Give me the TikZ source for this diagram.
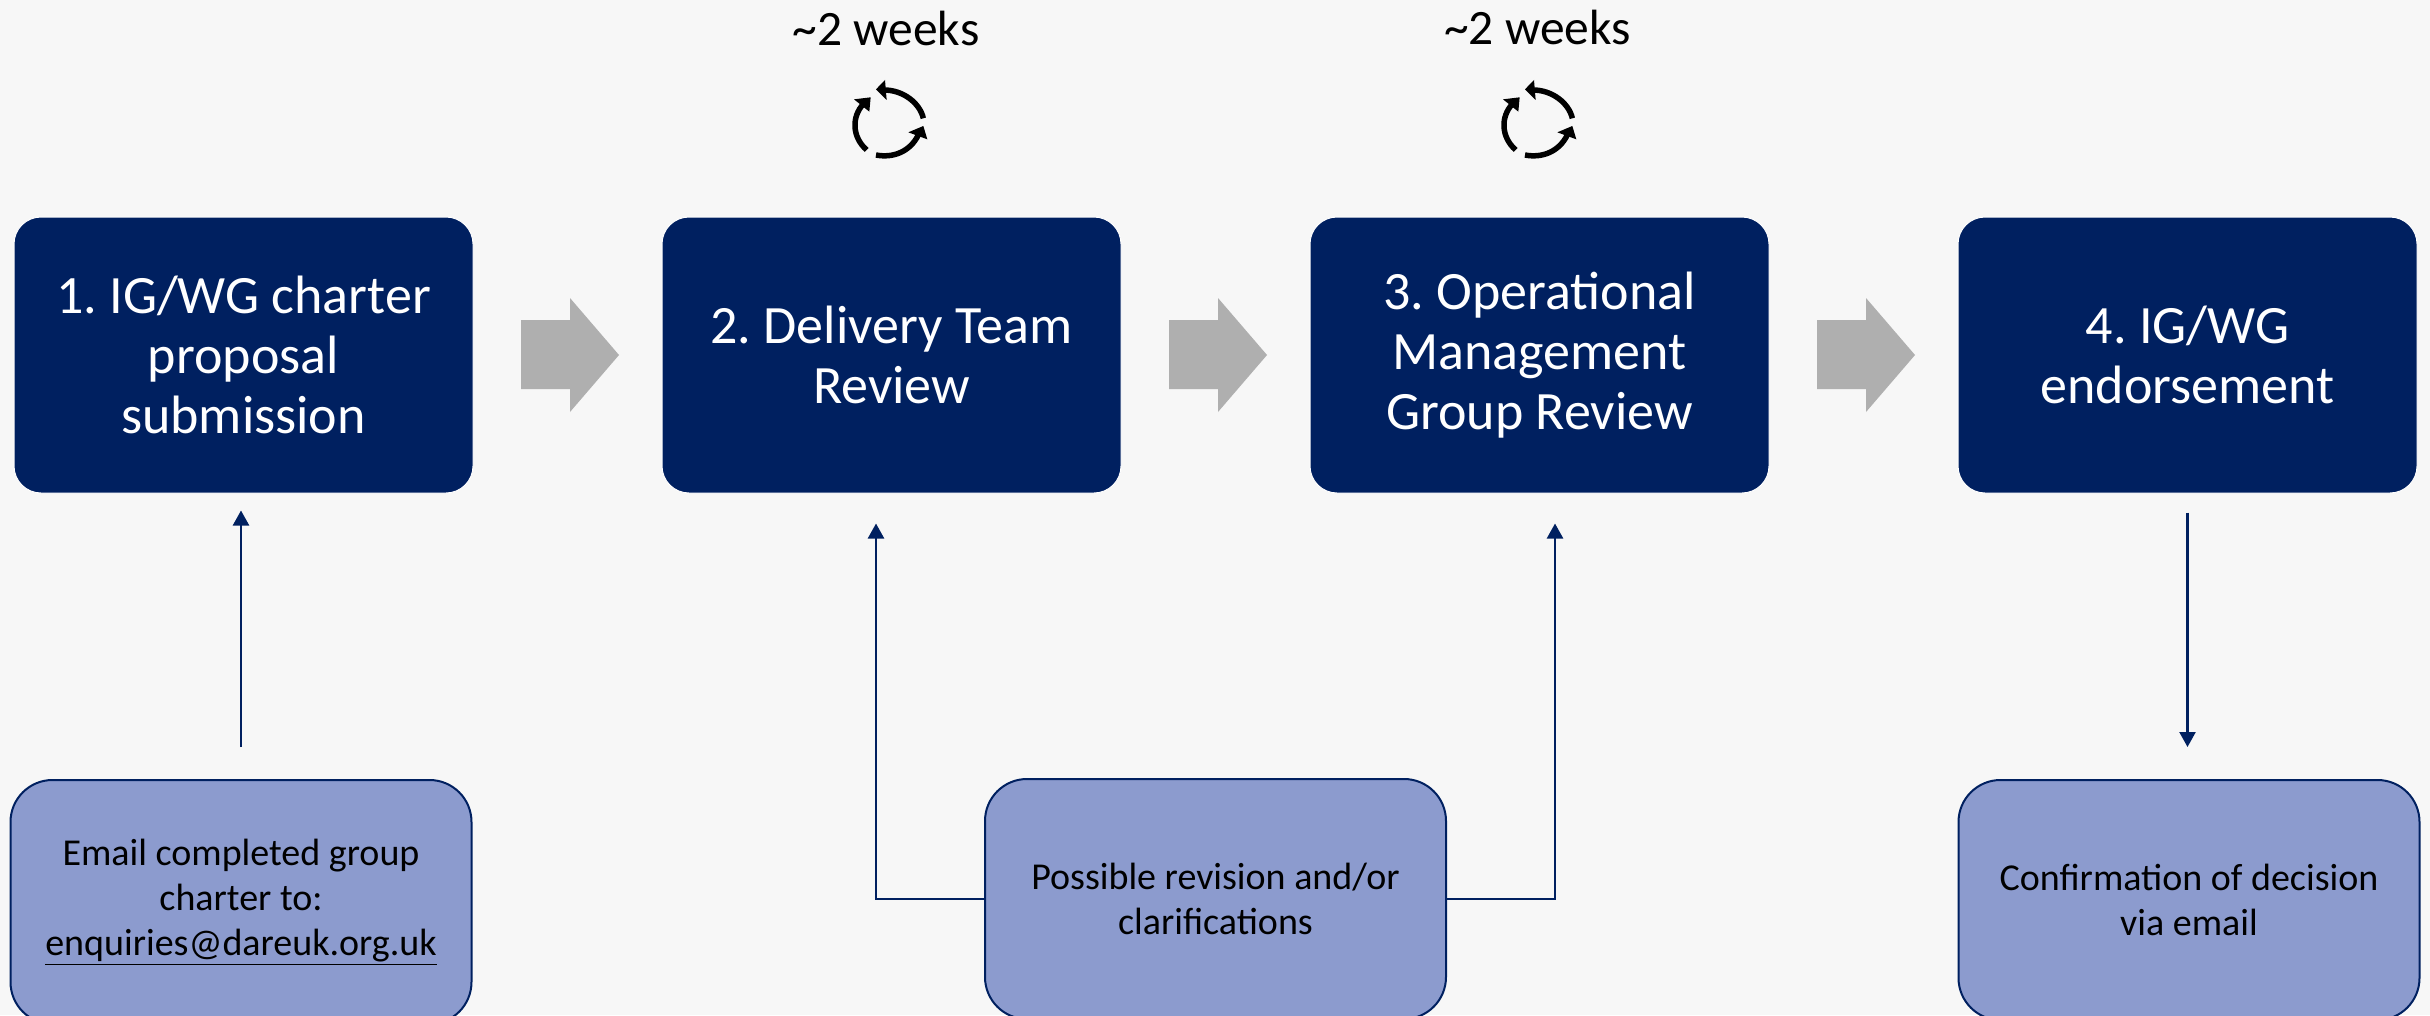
\documentclass[tikz,border=0pt]{standalone}
\usepackage{fontspec}
\setmainfont{Carlito}
\usetikzlibrary{arrows.meta}
\definecolor{navy}{HTML}{002060}
\definecolor{pale}{HTML}{8C9BCE}
\definecolor{bgc}{HTML}{F7F7F7}
\definecolor{arrowgrey}{HTML}{AFAFAF}
\tikzset{
  x=1pt,y=-1pt,
  mainbox/.style={draw=white,line width=1pt,fill=navy,rounded corners=27pt,minimum width=459pt,minimum height=276pt,
    text=white,align=flush center,text width=440pt,inner sep=0pt,font=\fontsize{54}{60}\selectfont\frenchspacing},
  subbox/.style={draw=navy,line width=2pt,fill=pale,rounded corners=42pt,minimum width=461pt,minimum height=240pt,
    text=black,align=flush center,text width=450pt,inner sep=0pt,font=\fontsize{38}{45}\selectfont\frenchspacing},
  link/.style={draw=navy,line width=2.4pt,-{Triangle[length=15pt,width=16pt]}},
  flow/.style={fill=arrowgrey,draw=none},
  durlabel/.style={text=black,inner sep=0pt,font=\fontsize{49.5}{54}\selectfont},
  cycline/.style={draw=black,line width=5.5pt,line cap=butt},
  cychead/.style={fill=black,draw=none}
}
\newcommand{\cycleicon}[1]{%
  \begin{scope}[shift={(#1,0)},x=0.3333pt,y=-0.3333pt]
    \draw[cycline] (430,355) .. controls (420,310) and (370,270) .. (312,270);
    \fill[cychead] (288,268) -- (315,240) -- (320,300) -- cycle;
    \draw[cycline] (260,450) .. controls (215,410) and (215,350) .. (250,312);
    \fill[cychead] (272,292) -- (222,298) -- (268,335) -- cycle;
    \draw[cycline] (288,465) .. controls (340,475) and (390,455) .. (415,405);
    \fill[cychead] (430,378) -- (385,397) -- (442,418) -- cycle;
  \end{scope}}
\newcommand{\flowarrow}[1]{%
  \fill[flow,shift={(#1,0)}] (521,320) -- (570,320) -- (570,298) -- (619,355) -- (570,412) -- (570,389) -- (521,389) -- cycle;}
\begin{document}
\begin{tikzpicture}
\useasboundingbox (0,0) rectangle (2430,1015);
\clip (0,0) rectangle (2430,1015);
\fill[bgc] (0,0) rectangle (2430,1015);

\node[mainbox] (b1) at (243.5,355) {1. IG/WG charter\\proposal\\submission};
\node[mainbox] (b2) at (891.5,355) {2. Delivery Team\\Review};
\node[mainbox] (b3) at (1539.5,355) {3. Operational\\Management\\Group Review};
\node[mainbox] (b4) at (2187.5,355) {4. IG/WG\\endorsement};

\flowarrow{0}
\flowarrow{648}
\flowarrow{1296}

\node[durlabel] (d1) at (886,28) {\textasciitilde 2 weeks};
\node[durlabel] (d2) at (1537.5,27) {\textasciitilde 2 weeks};
\cycleicon{780}
\cycleicon{1429}

\node[subbox,minimum height=244pt] (s1) at (241,902) {Email completed group\\charter to:\\\underline{enquiries@dareuk.org.uk}};
\node[subbox] (s2) at (1215.5,899) {Possible revision and/or\\clarifications};
\node[subbox] (s3) at (2189,900) {Confirmation of decision\\via email};

\draw[link,shorten <=32pt,shorten >=17pt] (s1.north) -- (s1.north |- b1.south);
\draw[link,shorten >=30pt] (s2.west) -- (876,899) coordinate (k1) -- (k1 |- b2.south);
\draw[link,shorten >=30pt] (s2.east) -- (1555,899) coordinate (k2) -- (k2 |- b3.south);
\draw[link,shorten <=19pt,shorten >=32pt] (b4.south) -- (b4.south |- s3.north);
\end{tikzpicture}
\end{document}
